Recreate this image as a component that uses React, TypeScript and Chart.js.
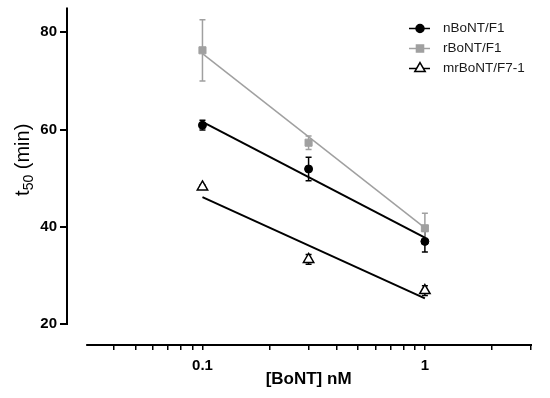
import React, { useEffect, useRef } from 'react';
import { Chart, registerables } from 'chart.js';

Chart.register(...registerables);

// ---- data ----
const concentrations = [0.1, 0.3, 1];
const seriesLabels = ['nBoNT/F1', 'rBoNT/F1', 'mrBoNT/F7-1'];
const nBoNT = [60.9, 51.9, 37.0];
const nBoNTErr = [1.0, 2.4, 2.2];
const rBoNT = [76.3, 57.3, 39.7];
const rBoNTErr = [6.3, 1.4, 3.1];
const mrBoNT = [48.2, 33.3, 26.9];
const mrBoNTErr = [0.4, 1.0, 1.0];
const fitX = [0.1, 1];
const nBoNTFit = [61.6, 37.8];
const rBoNTFit = [75.6, 39.8];
const mrBoNTFit = [46.1, 25.3];
const yTicks = [20, 40, 60, 80];
const xTicks = [0.04, 0.05, 0.06, 0.07, 0.08, 0.09, 0.1, 0.2, 0.3, 0.4, 0.5, 0.6, 0.7, 0.8, 0.9, 1, 2, 3];
const xLabeled = [0.1, 1];
const xAxisRange = [0.03, 3];
const xTitle = '[BoNT] nM';
const yTitleMain = 't';
const yTitleSub = '50';
const yTitleRest = ' (min)';

const BLACK = '#000000';
const GRAY = '#a0a0a0';
const FONT = '"Liberation Sans", Arial, sans-serif';

const pts = (xs: number[], ys: number[]) => xs.map((x, i) => ({ x, y: ys[i] }));

function drawMarker(ctx: CanvasRenderingContext2D, style: string, x: number, y: number, r: number, fill: string, stroke: string, lw: number) {
  ctx.save();
  ctx.fillStyle = fill;
  ctx.strokeStyle = stroke;
  ctx.lineWidth = lw;
  ctx.beginPath();
  if (style === 'circle') {
    ctx.arc(x, y, r, 0, Math.PI * 2);
  } else if (style === 'rect') {
    const s = r * Math.SQRT1_2;
    ctx.rect(x - s, y - s, 2 * s, 2 * s);
  } else {
    let rad = 0;
    ctx.moveTo(x + Math.sin(rad) * r, y - Math.cos(rad) * r);
    rad += (2 * Math.PI) / 3;
    ctx.lineTo(x + Math.sin(rad) * r, y - Math.cos(rad) * r);
    rad += (2 * Math.PI) / 3;
    ctx.lineTo(x + Math.sin(rad) * r, y - Math.cos(rad) * r);
    ctx.closePath();
  }
  ctx.fill();
  ctx.stroke();
  ctx.restore();
}

const errorBarPlugin = {
  id: 'errorBars',
  beforeDatasetsDraw(chart: any) {
    const { ctx, scales } = chart;
    const xs = scales.x, ys = scales.y;
    chart.data.datasets.forEach((ds: any) => {
      if (!ds.errors) return;
      ctx.save();
      ctx.strokeStyle = ds.borderColor;
      ctx.lineWidth = 1.5;
      ds.data.forEach((p: any, j: number) => {
        const e = ds.errors[j];
        const px = xs.getPixelForValue(p.x);
        const top = ys.getPixelForValue(p.y + e);
        const bot = ys.getPixelForValue(p.y - e);
        ctx.beginPath();
        ctx.moveTo(px, top);
        ctx.lineTo(px, bot);
        ctx.moveTo(px - 3, top);
        ctx.lineTo(px + 3, top);
        ctx.moveTo(px - 3, bot);
        ctx.lineTo(px + 3, bot);
        ctx.stroke();
      });
      ctx.restore();
    });
  },
};

const axesPlugin = {
  id: 'axesAndTitles',
  afterDraw(chart: any) {
    const { ctx, chartArea, scales } = chart;
    const xs = scales.x, ys = scales.y;
    ctx.save();
    ctx.strokeStyle = BLACK;
    ctx.lineWidth = 2;
    // y axis line
    const yBottom = ys.getPixelForValue(yTicks[0]);
    ctx.beginPath();
    ctx.moveTo(chartArea.left, yBottom + 1);
    ctx.lineTo(chartArea.left, chartArea.top);
    ctx.stroke();
    // x axis line
    const x0 = xs.getPixelForValue(xAxisRange[0]);
    const x1 = xs.getPixelForValue(xAxisRange[1]);
    ctx.beginPath();
    ctx.moveTo(x0, chartArea.bottom);
    ctx.lineTo(x1 + 1, chartArea.bottom);
    ctx.stroke();

    // x title
    ctx.fillStyle = BLACK;
    ctx.font = `bold 17px ${FONT}`;
    ctx.textAlign = 'center';
    ctx.textBaseline = 'middle';
    ctx.fillText(xTitle, (x0 + x1) / 2, chartArea.bottom + 34);

    // y title with subscript
    const mainFont = `20px ${FONT}`;
    const subFont = `14px ${FONT}`;
    ctx.font = mainFont;
    const wMain = ctx.measureText(yTitleMain).width;
    const wRest = ctx.measureText(yTitleRest).width;
    ctx.font = subFont;
    const wSub = ctx.measureText(yTitleSub).width;
    const total = wMain + wSub + wRest;
    const cy = (yBottom + chartArea.top) / 2 - 6;
    ctx.translate(chartArea.left - 45, cy);
    ctx.rotate(-Math.PI / 2);
    ctx.textAlign = 'left';
    ctx.textBaseline = 'alphabetic';
    let cx = -total / 2;
    ctx.font = mainFont;
    ctx.fillText(yTitleMain, cx, 7);
    cx += wMain;
    ctx.font = subFont;
    ctx.fillText(yTitleSub, cx, 11);
    cx += wSub;
    ctx.font = mainFont;
    ctx.fillText(yTitleRest, cx, 7);
    ctx.restore();

    // legend
    ctx.save();
    const styles = ['circle', 'rect', 'triangle'];
    const radii = [4, 5, 6];
    for (let i = 0; i < 3; i++) {
      const ds = chart.data.datasets[i];
      const ry = chartArea.top + 21 + i * 20;
      const lx0 = chartArea.right - 122;
      const lx1 = chartArea.right - 101;
      const mx = chartArea.right - 111;
      ctx.strokeStyle = ds.borderColor;
      ctx.lineWidth = 1.5;
      ctx.beginPath();
      ctx.moveTo(lx0, ry);
      ctx.lineTo(lx1, ry);
      ctx.stroke();
      drawMarker(ctx, styles[i], mx, ry, radii[i], ds.pointBackgroundColor, ds.borderColor, 1.5);
      ctx.fillStyle = '#1a1a1a';
      ctx.font = `13.5px ${FONT}`;
      ctx.textAlign = 'left';
      ctx.textBaseline = 'middle';
      ctx.fillText(seriesLabels[i], chartArea.right - 88, ry);
    }
    ctx.restore();
  },
};

export default function App() {
  const ref = useRef<HTMLCanvasElement>(null);
  useEffect(() => {
    document.body.style.margin = '0';
    const chart = new Chart(ref.current as HTMLCanvasElement, {
      type: 'scatter',
      data: {
        datasets: [
          {
            label: seriesLabels[0],
            data: pts(concentrations, nBoNT),
            errors: nBoNTErr,
            showLine: false,
            pointStyle: 'circle',
            pointRadius: 4,
            pointBackgroundColor: BLACK,
            borderColor: BLACK,
            pointBorderWidth: 1,
          } as any,
          {
            label: seriesLabels[1],
            data: pts(concentrations, rBoNT),
            errors: rBoNTErr,
            showLine: false,
            pointStyle: 'rect',
            pointRadius: 5,
            pointBackgroundColor: GRAY,
            borderColor: GRAY,
            pointBorderWidth: 1,
          } as any,
          {
            label: seriesLabels[2],
            data: pts(concentrations, mrBoNT),
            errors: mrBoNTErr,
            showLine: false,
            pointStyle: 'triangle',
            pointRadius: 6,
            pointBackgroundColor: '#ffffff',
            borderColor: BLACK,
            pointBorderWidth: 1.5,
          } as any,
          {
            label: 'fit-n',
            data: pts(fitX, nBoNTFit),
            showLine: true,
            pointRadius: 0,
            borderColor: BLACK,
            borderWidth: 2,
          },
          {
            label: 'fit-r',
            data: pts(fitX, rBoNTFit),
            showLine: true,
            pointRadius: 0,
            borderColor: GRAY,
            borderWidth: 1.5,
          },
          {
            label: 'fit-mr',
            data: pts(fitX, mrBoNTFit),
            showLine: true,
            pointRadius: 0,
            borderColor: BLACK,
            borderWidth: 2,
          },
        ],
      },
      options: {
        responsive: false,
        animation: false,
        layout: { padding: { top: 7, right: 19, left: 0, bottom: 0 } },
        plugins: {
          legend: { display: false },
          tooltip: { enabled: false },
          title: { display: false },
        },
        scales: {
          x: {
            type: 'logarithmic',
            min: 0.0246,
            max: 3,
            border: { display: false },
            grid: {
              display: true,
              drawOnChartArea: false,
              drawTicks: true,
              tickLength: 5,
              color: BLACK,
              lineWidth: 1.5,
            },
            afterBuildTicks: (scale: any) => {
              scale.ticks = xTicks.map((v) => ({ value: v }));
            },
            afterFit: (scale: any) => {
              scale.height = 53;
              scale.paddingLeft = 0;
              scale.paddingRight = 0;
            },
            ticks: {
              autoSkip: false,
              maxRotation: 0,
              padding: 7,
              color: BLACK,
              font: { family: FONT, size: 15, weight: 'bold' },
              callback: (v: any) => (xLabeled.includes(Number(v)) ? String(v) : ''),
            },
          },
          y: {
            type: 'linear',
            min: 15.7,
            max: 85.1,
            border: { display: false },
            grid: {
              display: true,
              drawOnChartArea: false,
              drawTicks: true,
              tickLength: 7,
              color: BLACK,
              lineWidth: 2,
            },
            afterBuildTicks: (scale: any) => {
              scale.ticks = yTicks.map((v) => ({ value: v }));
            },
            afterFit: (scale: any) => {
              scale.width = 67;
              scale.paddingTop = 0;
              scale.paddingBottom = 0;
            },
            ticks: {
              padding: 3,
              color: BLACK,
              font: { family: FONT, size: 15, weight: 'bold' },
            },
          },
        },
      } as any,
      plugins: [errorBarPlugin, axesPlugin],
    });
    return () => chart.destroy();
  }, []);
  return (
    <div style={{ width: 550, height: 398 }}>
      <canvas ref={ref} width={550} height={398} style={{ display: 'block' }} />
    </div>
  );
}
